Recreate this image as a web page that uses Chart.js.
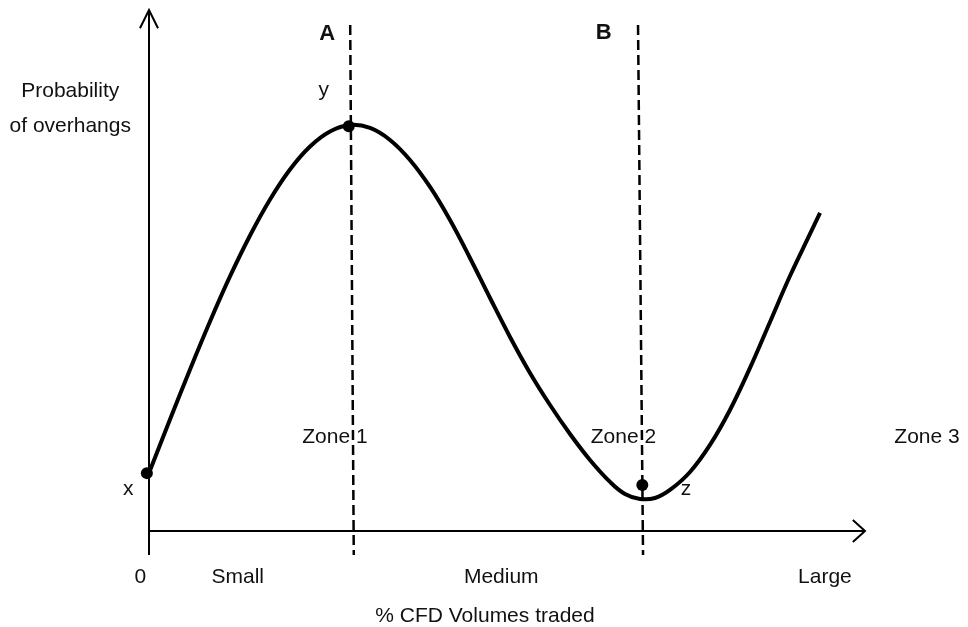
<!DOCTYPE html>
<html>
<head>
<meta charset="utf-8">
<script src="https://cdn.jsdelivr.net/npm/chart.js@4"></script>
<style>
  html, body { margin: 0; padding: 0; background: #fff; }
  canvas { display: block; }
</style>
</head>
<body>
<canvas id="chart" width="968" height="627"></canvas>
<script>
// curve: probability of overhangs vs % CFD volumes traded (conceptual units 0..100)
const curveX = [0, 2.93, 5.73, 8.52, 11.31, 14.11, 16.90, 19.69, 22.49, 25.28, 28.07, 30.87, 33.66, 36.45, 39.25, 42.04, 44.83, 47.63, 50.42, 53.21, 56.01, 58.80, 61.59, 64.39, 66.48, 68.57, 70.67, 72.76, 75.56, 78.35, 81.14, 83.94, 86.73, 89.52, 92.32, 93.72];
const curveY = [11.13, 21.40, 31.00, 40.21, 48.85, 56.72, 63.63, 69.39, 73.80, 76.68, 77.93, 77.35, 75.05, 71.21, 66.03, 59.69, 52.40, 44.72, 37.24, 30.33, 24.18, 18.62, 13.63, 9.41, 7.10, 6.14, 6.33, 7.87, 11.32, 16.51, 23.22, 31.29, 40.12, 48.94, 57.01, 61.04];

// marked points x, y, z
const markX = [-0.3, 27.9, 68.9];
const markY = [11.1, 77.7, 8.8];

// zone boundaries A and B (top / bottom of the dashed line)
const boundaryNames = ['A', 'B'];
const boundaryTopX = [28.1, 68.3];
const boundaryBottomX = [28.6, 69.0];
const boundaryTopY = 97.1;
const boundaryBottomY = -4.6;

const zoneLabels = ['Zone 1', 'Zone 2', 'Zone 3'];
const sizeLabels = ['0', 'Small', 'Medium', 'Large'];
const yTitle = ['Probability', 'of overhangs'];
const xTitle = '% CFD Volumes traded';

const FONT = '"Liberation Sans", Arial, Helvetica, sans-serif';

function pts(xs, ys) {
  return xs.map((x, i) => ({ x: x, y: ys[i] }));
}

const lineBase = { showLine: true, pointRadius: 0, fill: false, clip: false, borderColor: '#000', tension: 0 };

const datasets = [
  // y axis + arrow
  Object.assign({}, lineBase, { data: pts([0, 0], [-4.6, 100]), borderWidth: 2 }),
  Object.assign({}, lineBase, { data: pts([-1.26, 0, 1.26], [96.5, 100, 96.5]), borderWidth: 2 }),
  // x axis + arrow
  Object.assign({}, lineBase, { data: pts([0, 100], [0, 0]), borderWidth: 2 }),
  Object.assign({}, lineBase, { data: pts([98.3, 100, 98.3], [2.1, 0, -2.1]), borderWidth: 2 })
];

// dashed boundaries
boundaryNames.forEach((n, i) => {
  datasets.push(Object.assign({}, lineBase, {
    data: pts([boundaryTopX[i], boundaryBottomX[i]], [boundaryTopY, boundaryBottomY]),
    borderWidth: 2.5,
    borderDash: [10, 5]
  }));
});

// main curve
datasets.push(Object.assign({}, lineBase, {
  data: pts(curveX, curveY),
  borderWidth: 4,
  tension: 0.4,
  borderCapStyle: 'butt',
  borderJoinStyle: 'round'
}));

// dots
datasets.push({
  data: pts(markX, markY),
  showLine: false,
  pointRadius: 6,
  pointBackgroundColor: '#000',
  pointBorderWidth: 0,
  clip: false
});

// texts
const textPlugin = {
  id: 'texts',
  afterDatasetsDraw(chart) {
    const c = chart.ctx;
    const sx = chart.scales.x, sy = chart.scales.y;
    const px = v => sx.getPixelForValue(v);
    const py = v => sy.getPixelForValue(v);
    c.save();
    c.fillStyle = '#111';

    // A / B
    c.font = 'bold 22px ' + FONT;
    c.textAlign = 'center';
    c.textBaseline = 'middle';
    c.fillText(boundaryNames[0], px(24.9), py(95.4));
    c.fillText(boundaryNames[1], px(63.5), py(95.6));

    c.textBaseline = 'alphabetic';
    c.font = '21px ' + FONT;
    // y axis title
    c.fillText(yTitle[0], px(-11.0), py(83.3));
    c.fillText(yTitle[1], px(-11.0), py(76.6));
    // point names
    c.fillText('y', px(24.4), py(83.5));
    c.fillText('x', px(-2.9), py(6.9));
    c.fillText('z', px(75.0), py(6.9));
    // size categories
    const sizeX = [-1.2, 12.4, 49.2, 94.4];
    sizeLabels.forEach((s, i) => c.fillText(s, px(sizeX[i]), py(-10.0)));

    // zones
    c.textAlign = 'left';
    const zoneX = [21.4, 61.7, 104.1];
    zoneLabels.forEach((z, i) => c.fillText(z, px(zoneX[i]), py(16.9)));
    // x axis title
    c.fillText(xTitle, px(31.6), py(-17.5));
    c.restore();
  }
};

new Chart(document.getElementById('chart'), {
  type: 'scatter',
  data: { datasets: datasets },
  options: {
    responsive: false,
    animation: false,
    layout: { padding: { left: 149, right: 103, top: 10, bottom: 70 } },
    scales: {
      x: { type: 'linear', min: 0, max: 100, display: false },
      y: { type: 'linear', min: -5, max: 100, display: false }
    },
    plugins: {
      legend: { display: false },
      tooltip: { enabled: false }
    }
  },
  plugins: [textPlugin]
});
</script>
</body>
</html>
